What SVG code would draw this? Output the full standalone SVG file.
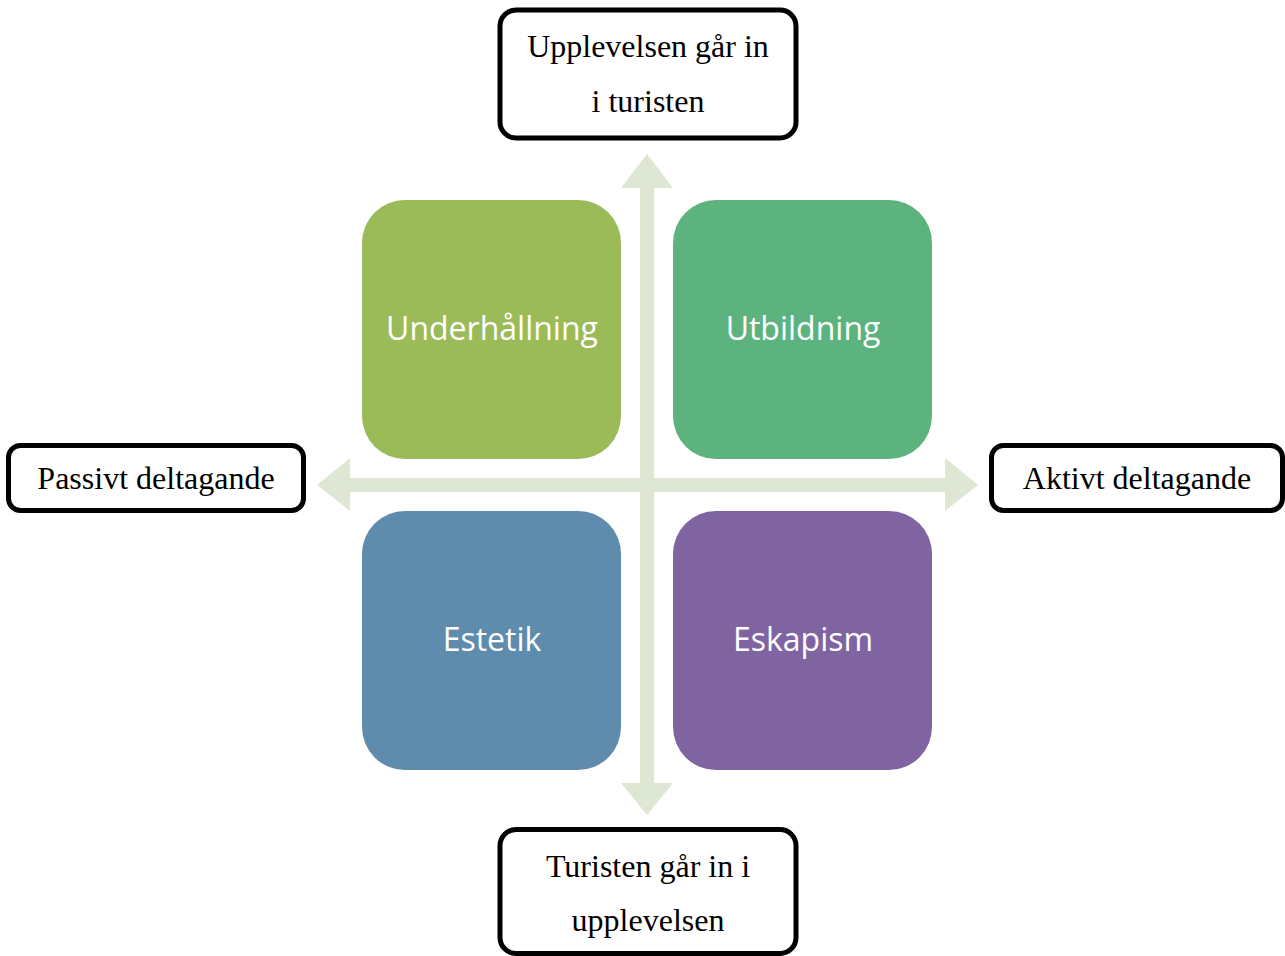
<svg xmlns="http://www.w3.org/2000/svg" width="1285" height="956" viewBox="0 0 1285 956">
  <style>
    .quad { stroke: none; }
    .quad-label { font-family: "Open Sans", "Noto Sans", sans-serif; font-size: 32px; fill: #ffffff; text-anchor: middle; }
    .axis { fill: #dee7d3; stroke: none; }
    .pole { fill: #ffffff; stroke: #000000; stroke-width: 5; }
    .pole-label { font-family: "Liberation Serif", "Times New Roman", serif; font-size: 32px; fill: #000000; text-anchor: middle; }
  </style>

  <rect width="1285" height="956" fill="#ffffff"/>

  <!-- axes: two double-headed arrows crossing at the centre -->
  <g id="connectors">
    <path class="axis" d="M640,188 L621,188 L647,154 L673,188 L654,188 L654,783 L673,783 L647,815 L621,783 L640,783 Z"/>
    <path class="axis" d="M350,478 L350,458 L317,485 L350,511 L350,492 L945,492 L945,511 L978,485 L945,458 L945,478 Z"/>
  </g>

  <!-- quadrants -->
  <g id="underhallning">
    <rect class="quad" x="362" y="200" width="259" height="259" rx="43" fill="#9bbb59"/>
    <text class="quad-label" x="492" y="340">Underhållning</text>
  </g>
  <g id="utbildning">
    <rect class="quad" x="673" y="200" width="259" height="259" rx="43" fill="#5db37e"/>
    <text class="quad-label" x="803" y="340">Utbildning</text>
  </g>
  <g id="estetik">
    <rect class="quad" x="362" y="511" width="259" height="259" rx="43" fill="#5f8bad"/>
    <text class="quad-label" x="492" y="651">Estetik</text>
  </g>
  <g id="eskapism">
    <rect class="quad" x="673" y="511" width="259" height="259" rx="43" fill="#8064a2"/>
    <text class="quad-label" x="803" y="651">Eskapism</text>
  </g>

  <!-- axis end labels -->
  <g id="top-label">
    <rect class="pole" x="500" y="10" width="296" height="128" rx="16"/>
    <text class="pole-label" x="648" y="57">Upplevelsen går in</text>
    <text class="pole-label" x="648" y="112">i turisten</text>
  </g>
  <g id="left-label">
    <rect class="pole" x="8.5" y="445.5" width="295" height="65" rx="12"/>
    <text class="pole-label" x="156" y="489">Passivt deltagande</text>
  </g>
  <g id="right-label">
    <rect class="pole" x="991.5" y="445.5" width="291" height="65" rx="12"/>
    <text class="pole-label" x="1137" y="489">Aktivt deltagande</text>
  </g>
  <g id="bottom-label">
    <rect class="pole" x="500" y="829.5" width="296" height="124" rx="16"/>
    <text class="pole-label" x="648" y="877">Turisten går in i</text>
    <text class="pole-label" x="648" y="931">upplevelsen</text>
  </g>
</svg>
